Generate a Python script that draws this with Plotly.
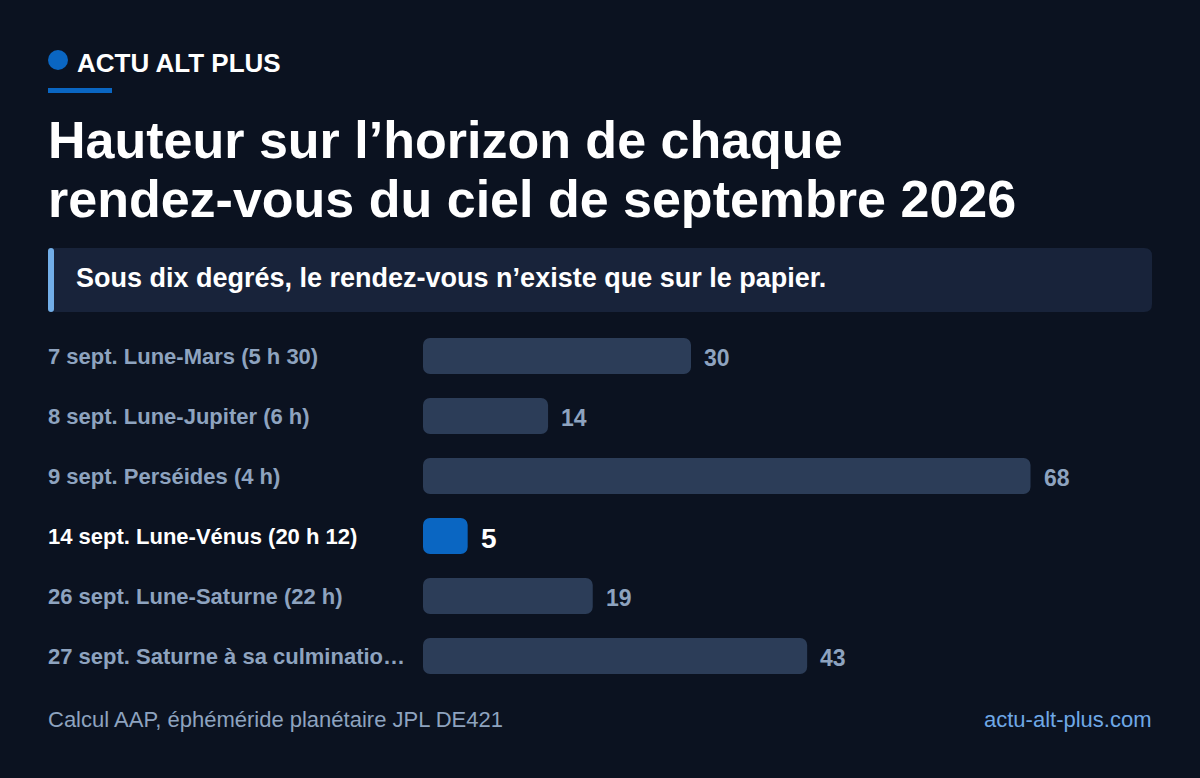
import plotly.graph_objects as go

# data
events = [
    "7 sept. Lune-Mars (5 h 30)",
    "8 sept. Lune-Jupiter (6 h)",
    "9 sept. Perséides (4 h)",
    "14 sept. Lune-Vénus (20 h 12)",
    "26 sept. Lune-Saturne (22 h)",
    "27 sept. Saturne à sa culminatio…",
]
altitude_deg = [30, 14, 68, 5, 19, 43]
highlight = "14 sept. Lune-Vénus (20 h 12)"

W, H = 1200, 778
BG = "#0b1220"
BAR = "#2c3d58"
BLUE = "#0a66c2"
MUTED = "#8ea3bf"
FONT = "Liberation Sans, Arial, sans-serif"


def px(x):
    return x / W


def py(y):
    return 1 - y / H


colors = [BLUE if e == highlight else BAR for e in events]

# an explicit base makes plotly round both ends of the bar
fig = go.Figure(go.Bar(
    x=altitude_deg, y=events, base=[0] * len(events), orientation="h",
    marker=dict(color=colors, line_width=0), width=0.6, hoverinfo="skip",
))

# row labels (left aligned) and value labels
annotations = []
for e, v in zip(events, altitude_deg):
    hl = e == highlight
    annotations.append(dict(
        x=px(46), xref="paper", y=e, yref="y",
        text=f"<b>{e}</b>", showarrow=False, xanchor="left",
        font=dict(family=FONT, size=22, color="white" if hl else MUTED),
    ))
    annotations.append(dict(
        x=v, xref="x", y=e, yref="y", yshift=-2,
        text=f"<b>{v}</b>", showarrow=False, xanchor="left", xshift=11,
        font=dict(family=FONT, size=28 if hl else 23, color="white" if hl else MUTED),
    ))

# header, title, subtitle, footer
annotations += [
    dict(x=px(75), y=py(63), text="<b>ACTU ALT PLUS</b>",
         font=dict(family=FONT, size=26, color="white")),
    dict(x=px(46), y=py(140), text="<b>Hauteur sur l’horizon de chaque</b>",
         font=dict(family=FONT, size=52, color="white")),
    dict(x=px(46), y=py(199), text="<b>rendez-vous du ciel de septembre 2026</b>",
         font=dict(family=FONT, size=52, color="white")),
    dict(x=px(74), y=py(278), text="<b>Sous dix degrés, le rendez-vous n’existe que sur le papier.</b>",
         font=dict(family=FONT, size=27, color="white")),
    dict(x=px(46), y=py(719), text="Calcul AAP, éphéméride planétaire JPL DE421",
         font=dict(family=FONT, size=22, color=MUTED)),
    dict(x=px(1154), y=py(719), text="actu-alt-plus.com", xanchor="right",
         font=dict(family=FONT, size=22, color="#6fa8e6")),
]
for a in annotations[-6:]:
    a.setdefault("xanchor", "left")
    a.update(xref="paper", yref="paper", showarrow=False, yanchor="middle")


def rounded_rect(x0, y0, x1, y1, r):
    # pixel coords -> paper path with rounded corners
    X0, X1 = px(x0), px(x1)
    Y0, Y1 = py(y0), py(y1)
    rx, ry = r / W, r / H
    return (
        f"M {X0 + rx},{Y0} L {X1 - rx},{Y0} Q {X1},{Y0} {X1},{Y0 - ry} "
        f"L {X1},{Y1 + ry} Q {X1},{Y1} {X1 - rx},{Y1} "
        f"L {X0 + rx},{Y1} Q {X0},{Y1} {X0},{Y1 + ry} "
        f"L {X0},{Y0 - ry} Q {X0},{Y0} {X0 + rx},{Y0} Z"
    )


shapes = [
    dict(type="circle", xref="paper", yref="paper",
         x0=px(48), x1=px(68), y0=py(50), y1=py(70),
         fillcolor=BLUE, line_width=0),
    dict(type="rect", xref="paper", yref="paper",
         x0=px(48), x1=px(112), y0=py(88), y1=py(93),
         fillcolor=BLUE, line_width=0),
    dict(type="path", xref="paper", yref="paper",
         path=rounded_rect(48, 248, 1152, 312, 8),
         fillcolor="#18233a", line_width=0, layer="below"),
    dict(type="path", xref="paper", yref="paper",
         path=rounded_rect(48, 248, 54, 312, 3),
         fillcolor="#72aee8", line_width=0),
]

fig.update_layout(
    width=W,
    height=H,
    margin=dict(l=0, r=0, t=0, b=0),
    paper_bgcolor=BG,
    plot_bgcolor=BG,
    showlegend=False,
    barcornerradius=7,
    xaxis=dict(domain=[px(423), px(1152)], range=[0, max(altitude_deg) * 1.2],
               visible=False, fixedrange=True),
    yaxis=dict(domain=[py(686), py(326)], autorange="reversed",
               visible=False, fixedrange=True),
    annotations=annotations,
    shapes=shapes,
)

fig.write_html("out.html", config={"displayModeBar": False},
               post_script="document.body.style.margin='0';")
